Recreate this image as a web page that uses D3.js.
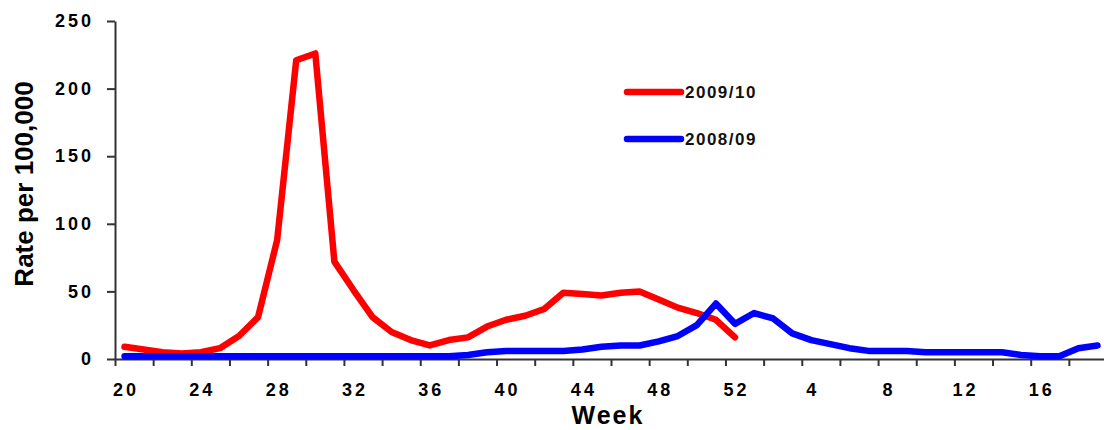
<!DOCTYPE html>
<html>
<head>
<meta charset="utf-8">
<script src="https://cdn.jsdelivr.net/npm/d3@7"></script>
<style>
  body { margin: 0; background: #fff; }
  svg { display: block; }
</style>
</head>
<body>
<script>
// Week categories: season runs from week 20 to week 19 of the next year
var weeks = d3.range(20, 53).concat(d3.range(1, 20)).map(String);

// 2009/10 season (stops at week 52)
var rate0910 = [9, 7, 5, 4, 5, 8, 17, 31, 88, 221, 226, 72, 51, 31, 20, 14, 10,
                14, 16, 24, 29, 32, 37, 49, 48, 47, 49, 50, 44, 38, 34, 29, 16];

// 2008/09 season
var rate0809 = [2, 2, 2, 2, 2, 2, 2, 2, 2, 2, 2, 2, 2, 2, 2, 2, 2, 2,
                3, 5, 6, 6, 6, 6, 7, 9, 10, 10, 13, 17, 25, 41, 26,
                34, 30, 19, 14, 11, 8, 6, 6, 6, 5, 5, 5, 5, 5, 3, 2, 2, 8, 10];

var yTicks = [0, 50, 100, 150, 200, 250];
var labelWeeks = ["20", "24", "28", "32", "36", "40", "44", "48", "52", "4", "8", "12", "16"];
var seriesNames = ["2009/10", "2008/09"];
var seriesColors = ["#ff0000", "#0000ff"];

var larg = 1104, haut = 430;
var plotLeft = 115, plotRight = 1107, plotTop = 21, plotBottom = 359;

var svg = d3.select("body").append("svg")
  .attr("width", larg)
  .attr("height", haut)
  .style("font-family", "'Liberation Sans', Arial, sans-serif");

var x = d3.scaleBand().domain(weeks).range([plotLeft, plotRight]);
var xi = d3.scaleLinear().domain([0, weeks.length]).range([plotLeft, plotRight]);
var y = d3.scaleLinear().domain([0, 250]).range([plotBottom, plotTop]);

// Y axis
var yAxis = svg.append("g")
  .attr("transform", "translate(" + plotLeft + ",0)")
  .call(d3.axisLeft(y).tickValues(yTicks).tickSize(8).tickPadding(13).tickSizeOuter(0));
yAxis.select(".domain").attr("stroke", "#333").attr("stroke-width", 2);
yAxis.selectAll(".tick line").attr("stroke", "#333").attr("stroke-width", 2);
yAxis.selectAll(".tick text")
  .attr("font-size", "18px")
  .attr("font-weight", "bold")
  .attr("letter-spacing", "3px")
  .attr("fill", "#000");

// X axis: tick marks every two weeks on category boundaries
var xTickAxis = svg.append("g")
  .attr("transform", "translate(0," + plotBottom + ")")
  .call(d3.axisBottom(xi).tickValues(d3.range(0, weeks.length + 1, 2))
    .tickSize(7).tickFormat("").tickSizeOuter(0));
xTickAxis.select(".domain").attr("stroke", "#333").attr("stroke-width", 2);
xTickAxis.selectAll(".tick line").attr("stroke", "#333").attr("stroke-width", 2);

// X labels every four weeks, centred on the category
var xLabAxis = svg.append("g")
  .attr("transform", "translate(0," + plotBottom + ")")
  .call(d3.axisBottom(x).tickValues(labelWeeks).tickSize(0).tickPadding(24));
xLabAxis.select(".domain").remove();
xLabAxis.selectAll(".tick text")
  .attr("font-size", "18px")
  .attr("font-weight", "bold")
  .attr("letter-spacing", "3px")
  .attr("dx", "1.5px")
  .attr("fill", "#000");

// Axis titles
svg.append("text")
  .attr("transform", "translate(33,184) rotate(-90)")
  .attr("text-anchor", "middle")
  .attr("font-size", "26px")
  .attr("font-weight", "bold")
  .attr("fill", "#000")
  .text("Rate per 100,000");

svg.append("text")
  .attr("x", 608)
  .attr("y", 424)
  .attr("text-anchor", "middle")
  .attr("font-size", "25px")
  .attr("font-weight", "bold")
  .attr("letter-spacing", "2px")
  .attr("fill", "#000")
  .text("Week");

// Lines
var line = d3.line()
  .x(function(d) { return x(d.week) + x.bandwidth() / 2; })
  .y(function(d) { return y(d.value); });

var series = [rate0910, rate0809].map(function(vals, k) {
  return {
    name: seriesNames[k],
    color: seriesColors[k],
    points: vals.map(function(v, i) { return {week: weeks[i], value: v}; })
  };
});

svg.selectAll("path.serie")
  .data(series)
  .enter()
  .append("path")
  .attr("class", "serie")
  .attr("d", function(d) { return line(d.points); })
  .attr("fill", "none")
  .attr("stroke", function(d) { return d.color; })
  .attr("stroke-width", 6.5)
  .attr("stroke-linejoin", "round")
  .attr("stroke-linecap", "round");

// Legend
var legend = svg.selectAll("g.legend")
  .data(series)
  .enter()
  .append("g")
  .attr("class", "legend")
  .attr("transform", function(d, i) { return "translate(627," + (92 + i * 47) + ")"; });

legend.append("line")
  .attr("x1", 0).attr("x2", 54)
  .attr("y1", 0).attr("y2", 0)
  .attr("stroke", function(d) { return d.color; })
  .attr("stroke-width", 6.5)
  .attr("stroke-linecap", "round");

legend.append("text")
  .attr("x", 58)
  .attr("y", 6)
  .attr("font-size", "17px")
  .attr("font-weight", "bold")
  .attr("letter-spacing", "1.5px")
  .attr("fill", "#111")
  .text(function(d) { return d.name; });
</script>
</body>
</html>
